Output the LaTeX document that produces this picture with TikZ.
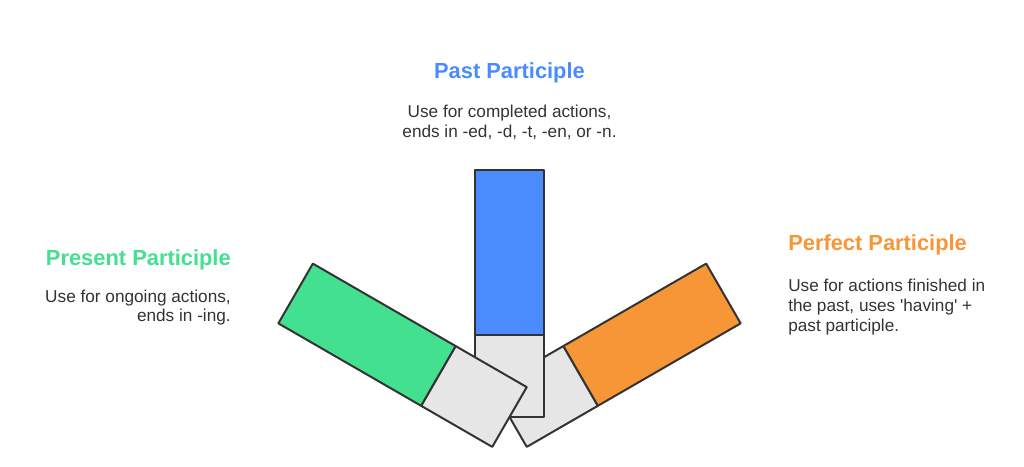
\documentclass[tikz,border=0pt]{standalone}
\usepackage{fontspec}
\setmainfont{Liberation Sans}
\usetikzlibrary{positioning}
\definecolor{pastblue}{RGB}{74,140,255}
\definecolor{presgreen}{RGB}{66,224,143}
\definecolor{perforange}{RGB}{247,150,55}
\definecolor{stemgrey}{RGB}{230,230,230}
\definecolor{inkgrey}{RGB}{51,51,51}

\begin{document}
\begin{tikzpicture}[x=0.75pt,y=0.75pt,barline/.style={draw=inkgrey,line width=1.5pt,line join=round},title/.style={inner sep=0pt,font=\fontsize{16.4}{20}\selectfont\bfseries},desc/.style={inner sep=0pt,text=inkgrey,font=\fontsize{12.9}{14.8}\selectfont}]
	\useasboundingbox (0,0) rectangle (1024,467);
	\coordinate (pivot) at (509.5,50);

	% perfect participle, behind
	\begin{scope}[rotate around={-60:(pivot)}]
		\draw[barline,fill=perforange]	(475,132) rectangle (544,297);
		\draw[barline,fill=stemgrey]	(475,50) rectangle (544,132);
	\end{scope}
	% past participle
	\begin{scope}
		\draw[barline,fill=pastblue]	(475,132) rectangle (544,297);
		\draw[barline,fill=stemgrey]	(475,50) rectangle (544,132);
	\end{scope}
	% present participle, in front
	\begin{scope}[rotate around={60:(pivot)}]
		\draw[barline,fill=presgreen]	(475,132) rectangle (544,297);
		\draw[barline,fill=stemgrey]	(475,50) rectangle (544,132);
	\end{scope}

	\node[title,text=pastblue]					(pasttitle)	at (509.5,393.7)	{Past Participle};
	\node[desc,align=center]					(pastdesc)	at (509.5,344.5)	{Use for completed actions,\\ends in -ed, -d, -t, -en, or -n.};

	\node[title,text=presgreen,anchor=east]		(prestitle)	at (231,207)		{Present Participle};
	\node[desc,align=right,anchor=east]			(presdesc)	at (231,159.5)		{Use for ongoing actions,\\ends in -ing.};

	\node[title,text=perforange,anchor=west]	(perftitle)	at (788,222)		{Perfect Participle};
	\node[desc,align=left,anchor=west]			(perfdesc)	at (788,160)		{Use for actions finished in\\the past, uses \textquotesingle having\textquotesingle{} +\\past participle.};
\end{tikzpicture}
\end{document}
